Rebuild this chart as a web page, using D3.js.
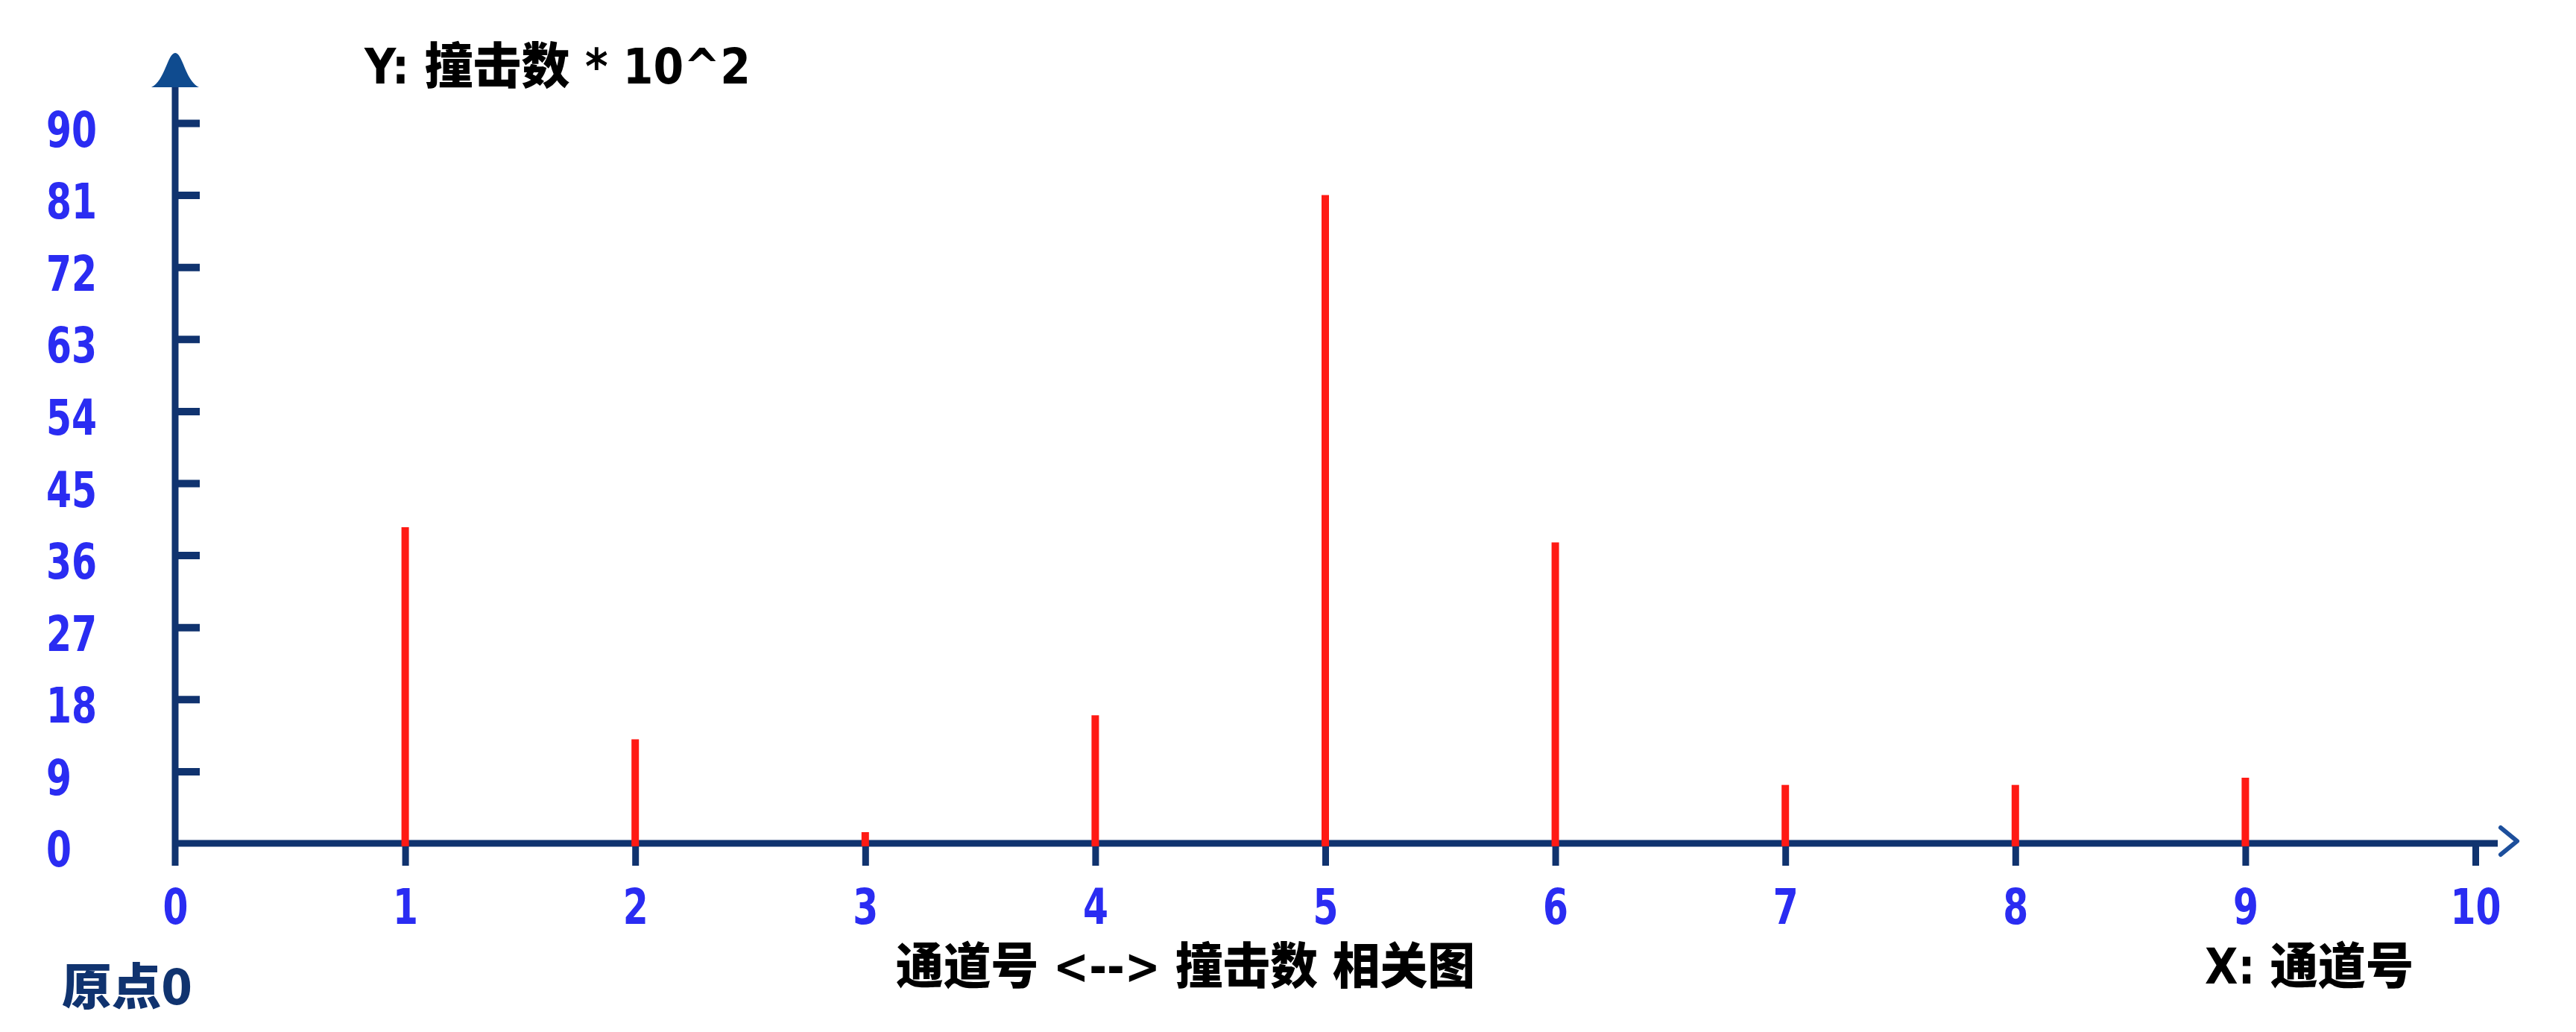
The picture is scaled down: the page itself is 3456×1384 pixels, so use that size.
<!DOCTYPE html>
<html>
<head>
<meta charset="utf-8">
<script src="https://cdn.jsdelivr.net/npm/d3@7"></script>
<style>
  html, body { margin: 0; padding: 0; background: #ffffff; }
  svg { display: block; }
</style>
</head>
<body>
<svg id="chart" width="3456" height="1384"></svg>
<script>
// ---- data ----
const channels = [1, 2, 3, 4, 5, 6, 7, 8, 9];
const hits = [39.5, 13, 1.4, 16, 81, 37.6, 7.3, 7.3, 8.2];
const xTicks = [0, 1, 2, 3, 4, 5, 6, 7, 8, 9, 10];
const yTicks = [0, 9, 18, 27, 36, 45, 54, 63, 72, 81, 90];
const yTitle = "Y: 撞击数 * 10^2";
const xTitle = "X: 通道号";
const chartTitle = "通道号 <--> 撞击数 相关图";
const originLabel = "原点0";

// ---- styles ----
const axisColor = "#10336f";
const arrowColor = "#0f4b8f";
const labelBlue = "#2a2cf2";
const barRed = "#ff1a14";
const numFont = "'DejaVu Sans Condensed', 'DejaVu Sans', sans-serif";
const cjkFont = "'DejaVu Sans Condensed', 'Noto Sans CJK SC', sans-serif";
const digitW = d => 34 * String(d).length;

const svg = d3.select("#chart");

const x = d3.scaleLinear().domain([0, 10]).range([235, 3321]);
const y = d3.scaleLinear().domain([0, 90]).range([1131, 165]);

// ---- y axis (ticks pointing inward, labels left aligned) ----
const yAxisG = svg.append("g")
  .attr("transform", `translate(${x(0)},0)`)
  .call(d3.axisLeft(y).tickValues(yTicks.filter(d => d > 0)).tickSize(-33).tickPadding(0).tickFormat(d3.format("d")));
yAxisG.select(".domain").remove();
yAxisG.selectAll(".tick line").attr("stroke", axisColor).attr("stroke-width", 10);
yAxisG.selectAll(".tick text")
  .attr("x", 62 - x(0))
  .attr("dy", null)
  .attr("y", 31)
  .attr("text-anchor", "start")
  .attr("textLength", d => digitW(d))
  .attr("lengthAdjust", "spacingAndGlyphs")
  .attr("fill", labelBlue)
  .style("font-family", numFont)
  .style("font-weight", "bold")
  .style("font-size", "65px");

// zero label for y
svg.append("text")
  .attr("x", 62).attr("y", y(0) + 31)
  .attr("textLength", digitW(yTicks[0]))
  .attr("lengthAdjust", "spacingAndGlyphs")
  .attr("fill", labelBlue)
  .style("font-family", numFont).style("font-weight", "bold").style("font-size", "65px")
  .text(yTicks[0]);

// y axis line
const yLineTop = y(90) - 48;
svg.append("line")
  .attr("x1", x(0)).attr("x2", x(0))
  .attr("y1", yLineTop).attr("y2", y(0) + 30)
  .attr("stroke", axisColor).attr("stroke-width", 9);

// y arrow head (bell shape)
const ax = x(0), tipY = yLineTop - 46, baseY = yLineTop;
svg.append("path")
  .attr("d", `M${ax - 32},${baseY} C${ax - 14},${baseY - 8} ${ax - 10},${tipY} ${ax},${tipY} C${ax + 10},${tipY} ${ax + 14},${baseY - 8} ${ax + 32},${baseY} Z`)
  .attr("fill", arrowColor);

// ---- x axis ----
const xAxisG = svg.append("g")
  .attr("transform", `translate(0,${y(0)})`)
  .call(d3.axisBottom(x).tickValues(xTicks).tickSize(30).tickPadding(0).tickFormat(d3.format("d")));
xAxisG.select(".domain").remove();
xAxisG.selectAll(".tick line").attr("stroke", axisColor).attr("stroke-width", 9)
  .filter(d => d === 0).remove();
xAxisG.selectAll(".tick text")
  .attr("y", 108)
  .attr("dy", null)
  .attr("textLength", d => digitW(d))
  .attr("lengthAdjust", "spacingAndGlyphs")
  .attr("fill", labelBlue)
  .style("font-family", numFont)
  .style("font-weight", "bold")
  .style("font-size", "65px");

// x axis line
svg.append("line")
  .attr("x1", x(0) - 4).attr("x2", x(10) + 30)
  .attr("y1", y(0)).attr("y2", y(0))
  .attr("stroke", axisColor).attr("stroke-width", 9);

// x arrow chevron
const cx = x(10) + 34, cy = y(0) - 3;
svg.append("path")
  .attr("d", `M${cx},${cy - 18} L${cx + 22},${cy} L${cx},${cy + 18}`)
  .attr("fill", "none")
  .attr("stroke", "#1d4f9c")
  .attr("stroke-width", 6)
  .attr("stroke-linecap", "round")
  .attr("stroke-linejoin", "round");

// ---- bars (stems) ----
svg.append("g").selectAll("rect")
  .data(channels.map((c, i) => ({ c, v: hits[i] })))
  .join("rect")
  .attr("x", d => x(d.c) - 5)
  .attr("width", 10)
  .attr("y", d => y(d.v))
  .attr("height", d => y(0) + 4 - y(d.v))
  .attr("fill", barRed);

// ---- texts ----
svg.append("text")
  .attr("x", 489).attr("y", 112)
  .attr("textLength", 518).attr("lengthAdjust", "spacingAndGlyphs")
  .attr("fill", "#000")
  .style("font-family", cjkFont).style("font-weight", "900").style("font-size", "66px")
  .text(yTitle);

svg.append("text")
  .attr("x", 1202).attr("y", 1319)
  .attr("textLength", 777).attr("lengthAdjust", "spacingAndGlyphs")
  .attr("fill", "#000")
  .style("font-family", cjkFont).style("font-weight", "900").style("font-size", "66px")
  .text(chartTitle);

svg.append("text")
  .attr("x", 2958).attr("y", 1319)
  .attr("textLength", 280).attr("lengthAdjust", "spacingAndGlyphs")
  .attr("fill", "#000")
  .style("font-family", cjkFont).style("font-weight", "900").style("font-size", "66px")
  .text(xTitle);

svg.append("text")
  .attr("x", 83).attr("y", 1347)
  .attr("textLength", 175).attr("lengthAdjust", "spacingAndGlyphs")
  .attr("fill", axisColor)
  .style("font-family", cjkFont).style("font-weight", "900").style("font-size", "66px")
  .text(originLabel);
</script>
</body>
</html>
